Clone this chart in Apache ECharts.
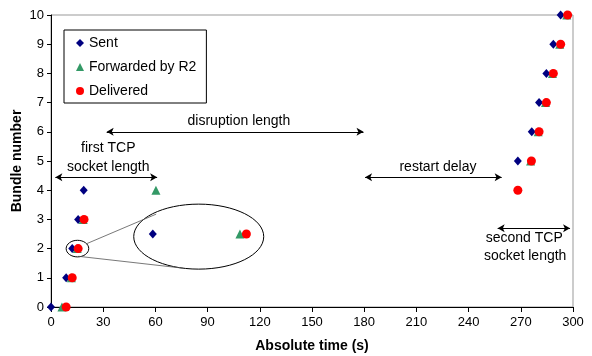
<!DOCTYPE html>
<html>
<head>
<meta charset="utf-8">
<script src="https://cdn.jsdelivr.net/npm/echarts@6/dist/echarts.min.js"></script>
<style>
  html, body { margin: 0; padding: 0; background: #fff; }
  #chart { width: 592px; height: 356px; }
</style>
</head>
<body>
<div id="chart"></div>
<script>
// bundle numbers and the times (s)
const bundles = [0, 1, 2, 3, 4, 5, 6, 7, 8, 9, 10];
const sentTime = [0, 8.7, 12.2, 15.6, 18.8, 268.3, 276.3, 280.5, 284.7, 288.7, 292.9];
const forwardedTime = [6.3, 11.7, 15.1, 18.5, 60.3, 275.6, 280.0, 284.2, 288.2, 292.4, 296.4];
const deliveredTime = [8.7, 12.2, 15.6, 19.0, 268.3, 276.1, 280.5, 284.7, 288.7, 292.9, 296.9];

// magnified copy of bundle 2 inside the big ellipse
const insetSent = [58.5, 2.5];
const insetForwarded = [108.6, 2.5];
const insetDelivered = [112.3, 2.5];

const xTicks = [0, 30, 60, 90, 120, 150, 180, 210, 240, 270, 300];

// annotation arrows [x1, x2, y] in data units
const arrows = [
  [2.5, 61, 4.44],
  [32, 179.6, 6.0],
  [180.5, 259, 4.44],
  [256.7, 298.3, 2.7]
];
const notes = [
  { text: 'first TCP', x: 32.9, y: 5.43 },
  { text: 'socket length', x: 32.9, y: 4.8 },
  { text: 'disruption length', x: 108, y: 6.36 },
  { text: 'restart delay', x: 222.4, y: 4.78 },
  { text: 'second TCP', x: 272, y: 2.35 },
  { text: 'socket length', x: 272.5, y: 1.75 }
];

const font = 'Arial, "Liberation Sans", sans-serif';
const chart = echarts.init(document.getElementById('chart'));

function pts(xs) {
  return xs.map((x, i) => [x, bundles[i]]);
}

chart.setOption({
  animation: false,
  textStyle: { fontFamily: font },
  grid: {
    left: 51, right: 19, top: 15, bottom: 49,
    outerBoundsMode: 'none',
    show: true, borderColor: '#999', borderWidth: 1
  },
  legend: {
    orient: 'vertical',
    left: 64,
    top: 30,
    padding: [6, 10, 5, 12],
    itemGap: 10,
    itemWidth: 8,
    itemHeight: 8,
    borderColor: '#000',
    borderWidth: 1,
    textStyle: { fontSize: 14, color: '#000', fontFamily: font },
    data: [
      { name: 'Sent', icon: 'diamond' },
      { name: 'Forwarded by R2', icon: 'triangle' },
      { name: 'Delivered', icon: 'circle' }
    ]
  },
  xAxis: {
    type: 'value',
    min: 0,
    max: 300,
    interval: 30,
    name: 'Absolute time (s)',
    nameLocation: 'middle',
    nameGap: 32,
    nameMoveOverlap: false,
    nameTextStyle: { fontSize: 14, fontWeight: 'bold', color: '#000' },
    axisLine: { lineStyle: { color: '#000' } },
    axisTick: { show: true, length: 5, lineStyle: { color: '#000' } },
    axisLabel: { fontSize: 13, color: '#000', margin: 9, formatter: v => xTicks.includes(v) ? String(v) : '' },
    splitLine: { show: false }
  },
  yAxis: {
    type: 'value',
    min: 0,
    max: 10,
    interval: 1,
    name: 'Bundle number',
    nameLocation: 'middle',
    nameGap: 27,
    nameMoveOverlap: false,
    nameTextStyle: { fontSize: 14, fontWeight: 'bold', color: '#000' },
    axisLine: { show: true, lineStyle: { color: '#000' } },
    axisTick: { show: true, length: 4, lineStyle: { color: '#000' } },
    axisLabel: { fontSize: 13, color: '#000', margin: 7 },
    splitLine: { show: false }
  },
  series: [
    {
      name: 'Sent',
      type: 'scatter',
      symbol: 'diamond',
      symbolSize: [8, 9],
      itemStyle: { color: '#000080', opacity: 1 },
      data: pts(sentTime).concat([insetSent]),
      markLine: {
        silent: true,
        symbol: ['arrow', 'arrow'],
        symbolSize: [6, 7],
        label: { show: false },
        lineStyle: { color: '#000', width: 1, type: 'solid' },
        data: arrows.map(a => [{ coord: [a[0], a[2]] }, { coord: [a[1], a[2]] }])
      }
    },
    {
      name: 'Forwarded by R2',
      type: 'scatter',
      symbol: 'triangle',
      symbolSize: 9,
      itemStyle: { color: '#339966', opacity: 1 },
      data: pts(forwardedTime).concat([insetForwarded])
    },
    {
      name: 'Delivered',
      type: 'scatter',
      symbol: 'circle',
      symbolSize: 9,
      itemStyle: { color: '#ff0000', opacity: 1 },
      data: pts(deliveredTime).concat([insetDelivered])
    }
  ]
});

// ellipses and text placed from data coordinates
const px = p => chart.convertToPixel({ gridIndex: 0 }, p);
const smallC = px([15.2, 2.0]);
const bigC = px([84.9, 2.41]);
const graphics = [
  { type: 'ellipse', shape: { cx: smallC[0], cy: smallC[1], rx: 11.3, ry: 8.3 }, style: { fill: null, stroke: '#000', lineWidth: 1 }, z: 10 },
  { type: 'ellipse', shape: { cx: bigC[0], cy: bigC[1], rx: 65, ry: 32.5 }, style: { fill: null, stroke: '#000', lineWidth: 1 }, z: 10 },
  { type: 'line', shape: { x1: smallC[0] + 9.4, y1: smallC[1] - 5, x2: bigC[0] - 42.6, y2: bigC[1] - 22.5 }, style: { stroke: '#555', lineWidth: 0.8 }, z: 10 },
  { type: 'line', shape: { x1: smallC[0] + 1, y1: smallC[1] + 7.7, x2: bigC[0] - 16, y2: bigC[1] + 31.5 }, style: { stroke: '#555', lineWidth: 0.8 }, z: 10 }
];
notes.forEach(n => {
  const p = px([n.x, n.y]);
  graphics.push({
    type: 'text', x: p[0], y: p[1], z: 10,
    style: { text: n.text, fill: '#000', font: '14px ' + font, textAlign: 'center', textVerticalAlign: 'middle' }
  });
});
chart.setOption({ graphic: graphics });
</script>
</body>
</html>
